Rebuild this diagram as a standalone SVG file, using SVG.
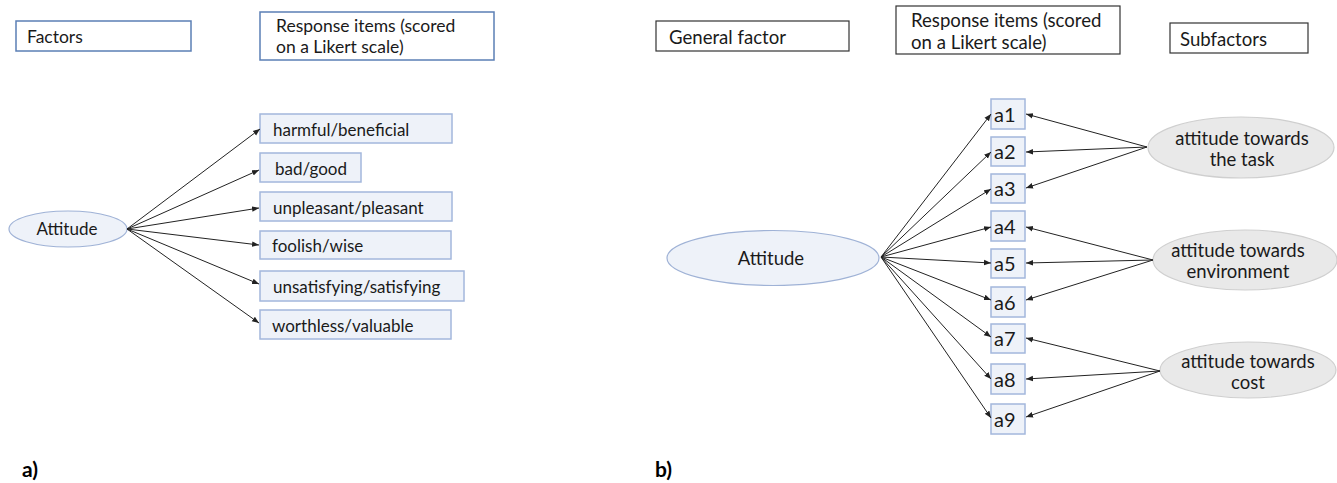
<svg xmlns="http://www.w3.org/2000/svg" width="1337" height="483" viewBox="0 0 1337 483">
<style>
text{font-family:Lato,"Liberation Sans",sans-serif;font-size:17px;fill:#1a1a1a}
.h{font-size:17.5px}
.hb{font-size:18.6px}
.big{font-size:18.5px}
.an{font-size:20px}
.hdrA{fill:#fff;stroke:#5b7fb5;stroke-width:1.5}
.hdrB{fill:#fff;stroke:#333;stroke-width:1.2}
.item{fill:#eef2f9;stroke:#a3b7dc;stroke-width:1.5}
.lat{fill:#eef2f9;stroke:#9fb2d6;stroke-width:1.2}
.sub{fill:#e9e9e9;stroke:#cfcfcf;stroke-width:1.2}
.c{stroke:#222;stroke-width:1;fill:none;marker-end:url(#ah)}
.lbl{font-weight:bold;font-size:21px;fill:#000}
.mid{text-anchor:middle}
</style>
<defs>
<marker id="ah" viewBox="0 0 10 10" refX="10" refY="5" markerWidth="7" markerHeight="7" markerUnits="userSpaceOnUse" orient="auto">
<path d="M0,1 L10,5 L0,9 z" fill="#222"/>
</marker>
</defs>

<g id="hdr-factors"><rect class="hdrA" x="16" y="21" width="175" height="30"/><text class="h" x="27" y="43">Factors</text></g>
<g id="hdr-response-a"><rect class="hdrA" x="260" y="12" width="234" height="48"/><text class="h" x="276" y="32">Response items (scored</text><text class="h" x="276" y="53">on a Likert scale)</text></g>

<g id="attitude-a"><ellipse class="lat" cx="68" cy="229" rx="59" ry="18"/><text class="mid" x="67" y="235">Attitude</text></g>
<g id="item-1"><rect class="item" x="260" y="114" width="192" height="29"/><text x="273" y="136">harmful/beneficial</text></g>
<g id="item-2"><rect class="item" x="260" y="153" width="101" height="29"/><text x="275" y="175">bad/good</text></g>
<g id="item-3"><rect class="item" x="260" y="192" width="192" height="29"/><text x="273" y="214">unpleasant/pleasant</text></g>
<g id="item-4"><rect class="item" x="260" y="231" width="191" height="28"/><text x="272" y="252">foolish/wise</text></g>
<g id="item-5"><rect class="item" x="260" y="271" width="204" height="30"/><text x="273" y="293">unsatisfying/satisfying</text></g>
<g id="item-6"><rect class="item" x="260" y="310" width="191" height="29"/><text x="272" y="332">worthless/valuable</text></g>

<g id="hdr-general"><rect class="hdrB" x="656" y="21" width="193" height="30"/><text class="hb" x="669" y="44">General factor</text></g>
<g id="hdr-response-b"><rect class="hdrB" x="896" y="6" width="224" height="48"/><text class="hb" x="911" y="27">Response items (scored</text><text class="hb" x="911" y="49">on a Likert scale)</text></g>
<g id="hdr-sub"><rect class="hdrB" x="1170" y="23" width="138" height="30"/><text class="hb" x="1180" y="46">Subfactors</text></g>

<g id="attitude-b"><ellipse class="lat" cx="773" cy="258" rx="106" ry="27.5"/><text class="mid big" x="771" y="265">Attitude</text></g>

<g id="a1"><rect class="item" x="991" y="99" width="34" height="30"/><text class="an" x="994" y="122">a1</text></g>
<g id="a2"><rect class="item" x="991" y="137" width="34" height="29"/><text class="an" x="994" y="159">a2</text></g>
<g id="a3"><rect class="item" x="991" y="174" width="34" height="29"/><text class="an" x="994" y="196">a3</text></g>
<g id="a4"><rect class="item" x="991" y="211" width="34" height="30"/><text class="an" x="994" y="234">a4</text></g>
<g id="a5"><rect class="item" x="991" y="249" width="34" height="29"/><text class="an" x="994" y="271">a5</text></g>
<g id="a6"><rect class="item" x="991" y="287" width="34" height="30"/><text class="an" x="994" y="310">a6</text></g>
<g id="a7"><rect class="item" x="991" y="324" width="34" height="29"/><text class="an" x="994" y="346">a7</text></g>
<g id="a8"><rect class="item" x="991" y="364" width="34" height="30"/><text class="an" x="994" y="387">a8</text></g>
<g id="a9"><rect class="item" x="991" y="404" width="34" height="30"/><text class="an" x="994" y="427">a9</text></g>

<g id="sub-task"><ellipse class="sub" cx="1241" cy="147.5" rx="93" ry="30.5"/><text class="mid big" x="1242" y="145">attitude towards</text><text class="mid big" x="1242" y="166">the task</text></g>
<g id="sub-env"><ellipse class="sub" cx="1245" cy="260" rx="92" ry="30"/><text class="mid big" x="1238" y="257">attitude towards</text><text class="mid big" x="1238" y="278">environment</text></g>
<g id="sub-cost"><ellipse class="sub" cx="1248" cy="370" rx="88" ry="28"/><text class="mid big" x="1248" y="368">attitude towards</text><text class="mid big" x="1248" y="389">cost</text></g>

<g id="connectors">
<path class="c" d="M127,229 L260,129"/>
<path class="c" d="M127,229 L259,170"/>
<path class="c" d="M127,229 L259,208"/>
<path class="c" d="M127,229 L259,245"/>
<path class="c" d="M127,229 L259,284"/>
<path class="c" d="M127,229 L259,323"/>

<path class="c" d="M881,257 L991,114"/>
<path class="c" d="M881,257 L991,152"/>
<path class="c" d="M881,257 L991,189"/>
<path class="c" d="M881,257 L991,227"/>
<path class="c" d="M881,257 L991,263"/>
<path class="c" d="M881,257 L991,300"/>
<path class="c" d="M881,257 L991,337"/>
<path class="c" d="M881,257 L991,379"/>
<path class="c" d="M881,257 L991,418"/>

<path class="c" d="M1147,147 L1026,114"/>
<path class="c" d="M1147,147 L1026,152"/>
<path class="c" d="M1147,147 L1026,188"/>
<path class="c" d="M1153,260 L1026,227"/>
<path class="c" d="M1153,260 L1026,263"/>
<path class="c" d="M1153,260 L1026,300"/>
<path class="c" d="M1160,371 L1026,338"/>
<path class="c" d="M1160,371 L1026,379"/>
<path class="c" d="M1160,371 L1026,417"/>
</g>

<text class="lbl" x="22" y="477">a)</text>
<text class="lbl" x="655" y="477">b)</text>
</svg>
